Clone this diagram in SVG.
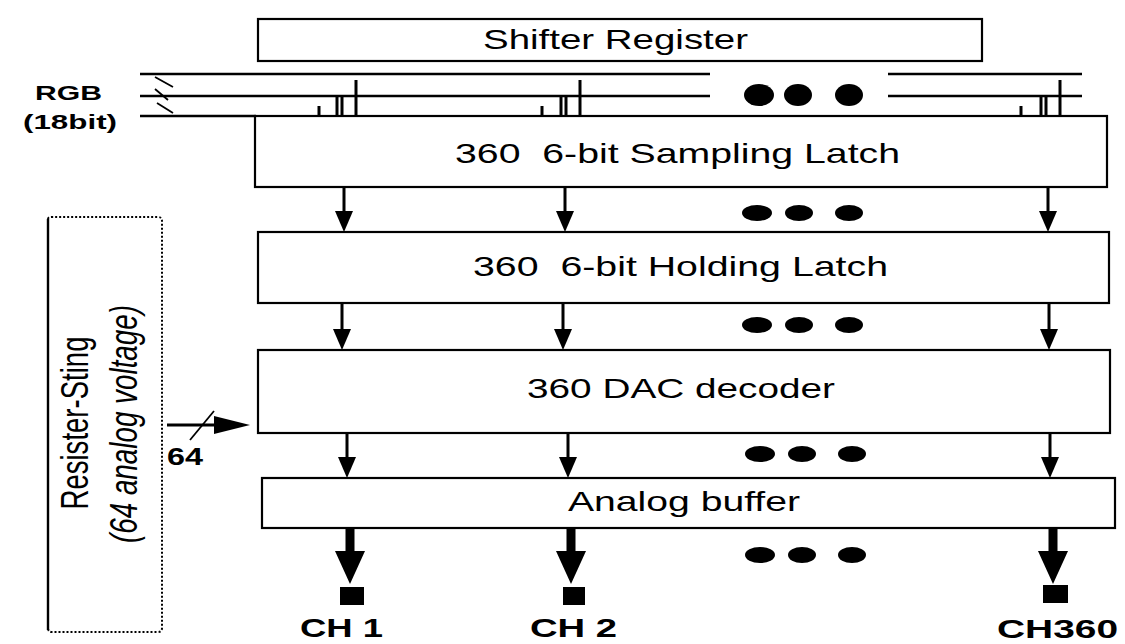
<svg xmlns="http://www.w3.org/2000/svg" width="1125" height="644" viewBox="0 0 1125 644">
<style>
.box{fill:#fff;stroke:#000;stroke-width:2.2}
.lbl{font-family:"Liberation Sans",Arial,sans-serif;font-size:28px;fill:#000;white-space:pre}
.bold{font-family:"Liberation Sans",Arial,sans-serif;font-weight:bold;fill:#000}
.bus{stroke:#000;stroke-width:2.6;fill:none}
.tap{stroke:#000;stroke-width:3;fill:none}
.wire{stroke:#000;stroke-width:3;fill:none}
.thick{stroke:#000;stroke-width:9;fill:none}
.dot{fill:#000}
.dotted{fill:none;stroke:#000;stroke-width:2;stroke-dasharray:2 2}
</style>
<defs>
<path id="hs" d="M-9,-21 L9,-21 L0,0 Z" fill="#000"/>
<path id="hl" d="M-15,-33 L15,-33 L0,0 Z" fill="#000"/>
</defs>
<rect width="1125" height="644" fill="#fff"/>

<g id="connectors">
<path class="bus" d="M140,74 H710 M888,74 H1082 M140,96 H710 M888,96 H1082 M140,116 H256"/>
<path stroke="#000" stroke-width="1.8" fill="none" d="M155,77 L173,87 M155,89 L168,100 M157,103 L173,113"/>
<path class="tap" d="M319,106 V116 M337,97 V116 M342,97 V116 M356,80 V116"/>
<path class="tap" d="M542,106 V116 M561,97 V116 M566,97 V116 M580,80 V116"/>
<path class="tap" d="M1021,106 V116 M1041,97 V116 M1046,97 V116 M1060,80 V116"/>
<path class="wire" d="M344,188 V213 M565,188 V213 M1048,188 V213"/>
<use href="#hs" x="344" y="232"/><use href="#hs" x="565" y="232"/><use href="#hs" x="1048" y="232"/>
<path class="wire" d="M342,304 V330 M563,304 V330 M1049,304 V330"/>
<use href="#hs" x="342" y="350"/><use href="#hs" x="563" y="350"/><use href="#hs" x="1049" y="350"/>
<path class="wire" d="M347,434 V458 M568,434 V458 M1050,434 V458"/>
<use href="#hs" x="347" y="478"/><use href="#hs" x="568" y="478"/><use href="#hs" x="1050" y="478"/>
<path class="thick" d="M350,529 V552 M571,529 V552 M1053,529 V552"/>
<use href="#hl" x="350" y="584"/><use href="#hl" x="571" y="584"/><use href="#hl" x="1053" y="584"/>
<path class="wire" d="M167,425 H216"/>
<path d="M214,416 L250,425 L214,434 Z" fill="#000"/>
<path stroke="#000" stroke-width="1.8" fill="none" d="M190,440 L214,411"/>
</g>

<g id="shifter">
<rect class="box" x="258" y="19" width="724" height="42"/>
<text class="lbl" x="483" y="49" textLength="265" lengthAdjust="spacingAndGlyphs">Shifter Register</text>
</g>

<g id="rgb-label">
<text class="bold" font-size="21" x="35" y="100" textLength="67" lengthAdjust="spacingAndGlyphs">RGB</text>
<text class="bold" font-size="21" x="23" y="129" textLength="94" lengthAdjust="spacingAndGlyphs">(18bit)</text>
</g>

<g id="sampling">
<rect class="box" x="255" y="116" width="852" height="71"/>
<text class="lbl" xml:space="preserve" x="455" y="163" textLength="445" lengthAdjust="spacingAndGlyphs">360  6-bit Sampling Latch</text>
</g>

<g id="holding">
<rect class="box" x="258" y="232" width="851" height="71"/>
<text class="lbl" xml:space="preserve" x="473" y="276" textLength="415" lengthAdjust="spacingAndGlyphs">360  6-bit Holding Latch</text>
</g>

<g id="dac">
<rect class="box" x="258" y="350" width="852" height="83"/>
<text class="lbl" x="527" y="398" textLength="308" lengthAdjust="spacingAndGlyphs">360 DAC decoder</text>
</g>

<g id="buffer">
<rect class="box" x="262" y="478" width="853" height="50"/>
<text class="lbl" x="568" y="511" textLength="232" lengthAdjust="spacingAndGlyphs">Analog buffer</text>
</g>

<g id="resister-string">
<path class="dotted" d="M48,219 Q48,217 52,217 H158 Q162,217 162,221 V628 Q162,632 158,632 H52 Q48,632 48,628"/>
<path stroke="#000" stroke-width="2.4" fill="none" d="M48,219 V630"/>
<text class="lbl" transform="translate(88,423) rotate(-90) scale(1,1.4)" text-anchor="middle" textLength="173" lengthAdjust="spacingAndGlyphs">Resister-Sting</text>
<text class="lbl" font-style="italic" transform="translate(137,424) rotate(-90) scale(1,1.4)" text-anchor="middle" textLength="238" lengthAdjust="spacingAndGlyphs">(64 analog voltage)</text>
<text class="bold" font-size="24" x="167" y="465" textLength="36" lengthAdjust="spacingAndGlyphs">64</text>
</g>

<g id="dots">
<ellipse class="dot" cx="759" cy="95" rx="15" ry="11"/><ellipse class="dot" cx="798" cy="95" rx="14" ry="11"/><ellipse class="dot" cx="849" cy="95" rx="14" ry="11"/>
<ellipse class="dot" cx="757" cy="213" rx="15" ry="8"/><ellipse class="dot" cx="799" cy="213" rx="14" ry="8"/><ellipse class="dot" cx="849" cy="213" rx="14" ry="8"/>
<ellipse class="dot" cx="757" cy="325" rx="15" ry="8"/><ellipse class="dot" cx="799" cy="325" rx="14" ry="8"/><ellipse class="dot" cx="849" cy="325" rx="14" ry="8"/>
<ellipse class="dot" cx="760" cy="454" rx="15" ry="8"/><ellipse class="dot" cx="802" cy="454" rx="14" ry="8"/><ellipse class="dot" cx="852" cy="454" rx="14" ry="8"/>
<ellipse class="dot" cx="760" cy="555" rx="15" ry="8"/><ellipse class="dot" cx="802" cy="555" rx="14" ry="8"/><ellipse class="dot" cx="852" cy="555" rx="14" ry="8"/>
</g>

<g id="ch1">
<rect x="340" y="587" width="24" height="18" fill="#000"/>
<text class="bold" font-size="26" x="300" y="637" textLength="83" lengthAdjust="spacingAndGlyphs">CH 1</text>
</g>
<g id="ch2">
<rect x="563" y="587" width="22" height="18" fill="#000"/>
<text class="bold" font-size="26" x="530" y="637" textLength="87" lengthAdjust="spacingAndGlyphs">CH 2</text>
</g>
<g id="ch360">
<rect x="1043" y="585" width="25" height="18" fill="#000"/>
<text class="bold" font-size="26" x="997" y="638" textLength="121" lengthAdjust="spacingAndGlyphs">CH360</text>
</g>
</svg>
